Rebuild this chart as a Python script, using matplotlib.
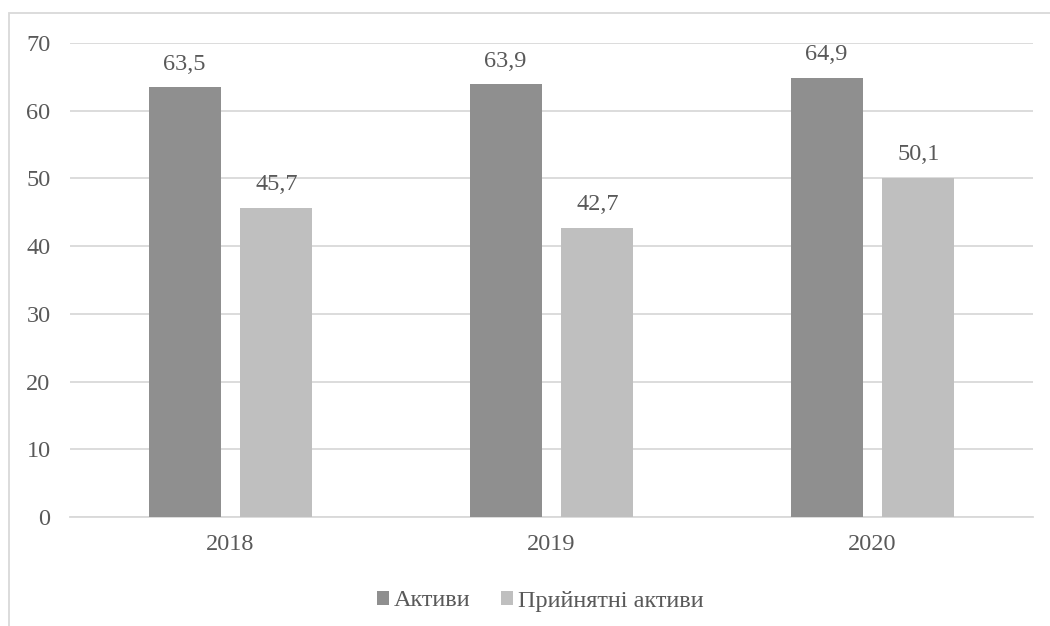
import numpy as np
import matplotlib
matplotlib.use("Agg")
import matplotlib.pyplot as plt
from matplotlib.patches import Rectangle

# ---------- DATA ----------
years = ["2018", "2019", "2020"]
aktyvy = [63.5, 63.9, 64.9]
pryiniatni = [45.7, 42.7, 50.1]
series_names = ["Активи", "Прийнятні активи"]

DARK = "#8f8f8f"
LIGHT = "#bfbfbf"
TEXT = "#595959"
GRID = "#d9d9d9"
FS = 17.5

plt.rcParams["font.family"] = ["Liberation Serif", "DejaVu Serif"]

W, H = 1050, 626
fig = plt.figure(figsize=(W / 100, H / 100), dpi=100)
ax = fig.add_axes([70 / W, 1 - 517 / H, (1033 - 70) / W, (517 - 43) / H])

# outer chart frame (partially cropped, as in the source)
fig.patches.append(Rectangle((9 / W, -0.05), 1.1, 1 - 13 / H + 0.05,
                             transform=fig.transFigure, fill=False,
                             edgecolor=GRID, linewidth=1.3))

x = np.arange(len(years))
w = 0.224
off = 0.143
b1 = ax.bar(x - off, aktyvy, w, color=DARK, label=series_names[0], zorder=3)
b2 = ax.bar(x + off, pryiniatni, w, color=LIGHT, label=series_names[1], zorder=3)

for bars in (b1, b2):
    for rect in bars:
        v = rect.get_height()
        ax.annotate(f"{v:.1f}".replace(".", ","),
                    (rect.get_x() + rect.get_width() / 2, v),
                    xytext=(0, 9), textcoords="offset points",
                    ha="center", va="bottom", fontsize=FS, color=TEXT)

ax.set_xlim(-0.5, 2.5)
ax.set_ylim(0, 70)
ax.set_yticks(range(0, 71, 10))
ax.set_xticks(x)
ax.set_xticklabels(years)
ax.yaxis.grid(True, color=GRID, linewidth=1.3, zorder=0)
ax.set_axisbelow(True)
for s in ("top", "right", "left"):
    ax.spines[s].set_visible(False)
ax.spines["bottom"].set_color(GRID)
ax.spines["bottom"].set_linewidth(1.3)
ax.tick_params(axis="both", length=0, labelsize=FS, colors=TEXT)
ax.tick_params(axis="y", pad=14)
ax.tick_params(axis="x", pad=12)

leg = fig.legend(loc="center", bbox_to_anchor=(540 / W, 1 - 601 / H), ncol=2,
                 frameon=False, fontsize=FS, handlelength=0.5, handleheight=0.5,
                 handletextpad=0.2, columnspacing=1.25, labelcolor=TEXT)

fig.savefig("out.png", dpi=100)
